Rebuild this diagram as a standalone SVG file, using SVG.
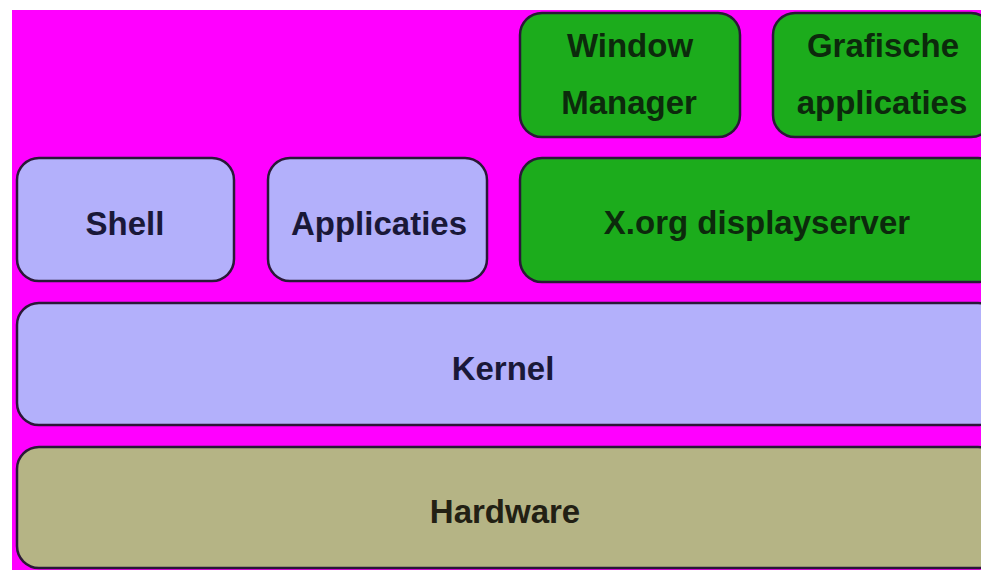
<svg xmlns="http://www.w3.org/2000/svg" width="981" height="570" viewBox="0 0 981 570">
<style>
.box{stroke:#2a1838;stroke-width:2.5}
.lav{fill:#b3b0fb}
.grn{fill:#1cac1c}
.olv{fill:#b5b485}
text{font-family:"Liberation Sans",Arial,sans-serif;font-weight:bold;font-size:33px;text-anchor:middle}
.tl{fill:#1a1838}
.tg{fill:#0c2a0c}
.th{fill:#222014}
</style>
<rect x="0" y="0" width="981" height="570" fill="#ffffff"/>
<rect x="12" y="10" width="969" height="560" fill="#ff00ff"/>
<g id="window-manager">
<rect class="box grn" x="520" y="13" width="220" height="124" rx="22"/>
<text class="tg" x="630" y="57">Window</text>
<text class="tg" x="629" y="114">Manager</text>
</g>
<g id="grafische-applicaties">
<rect class="box grn" x="773" y="13" width="220" height="124" rx="22"/>
<text class="tg" x="883" y="57">Grafische</text>
<text class="tg" x="882" y="114">applicaties</text>
</g>
<g id="shell">
<rect class="box lav" x="17" y="158" width="217" height="123" rx="22"/>
<text class="tl" x="125" y="235">Shell</text>
</g>
<g id="applicaties">
<rect class="box lav" x="268" y="158" width="219" height="123" rx="22"/>
<text class="tl" x="379" y="235">Applicaties</text>
</g>
<g id="xorg">
<rect class="box grn" x="520" y="158" width="480" height="124" rx="22"/>
<text class="tg" x="757" y="234">X.org displayserver</text>
</g>
<g id="kernel">
<rect class="box lav" x="17" y="303" width="983" height="122" rx="22"/>
<text class="tl" x="503" y="380">Kernel</text>
</g>
<g id="hardware">
<rect class="box olv" x="17" y="447" width="983" height="121" rx="22"/>
<text class="th" x="505" y="523">Hardware</text>
</g>
<g id="connectors"/>
</svg>
